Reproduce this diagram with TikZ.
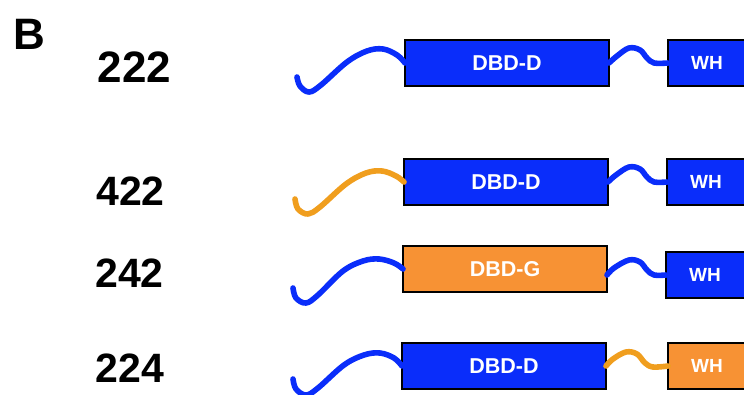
\documentclass[tikz,border=0pt]{standalone}
\usepackage{fontspec}
\setmainfont{Liberation Sans}
\definecolor{pblue}{RGB}{10,45,250}
\definecolor{porange}{RGB}{247,146,52}
\definecolor{ptail}{RGB}{240,158,30}
\tikzset{
  box/.style={draw=black, line width=1.3pt, minimum height=46pt, inner sep=0pt, outer sep=0pt,
    anchor=north west, text=white, font=\bfseries\fontsize{21.5}{21.5}\selectfont},
  dbd/.style={box, minimum width=204pt},
  wh/.style={box, minimum width=90pt, font=\bfseries\fontsize{19}{19}\selectfont},
  tail/.style={line width=5.6pt, line cap=round, line join=round},
  num/.style={inner sep=0pt, font=\bfseries\fontsize{41}{41}\selectfont},
}
\begin{document}
\begin{tikzpicture}[x=1pt, y=-1pt]
\useasboundingbox (0,0) rectangle (744,394);

\node[inner sep=0pt, font=\bfseries\fontsize{44}{44}\selectfont] (B) at (29,34) {B};
\node[num, font=\bfseries\fontsize{44}{44}\selectfont] (n1) at (134.5,67.5) {222};
\node[num] (n2) at (130.5,191.5) {422};
\node[num] (n3) at (129.5,273) {242};
\node[num] (n4) at (130,368) {224};

% row 1: 222
\begin{scope}[shift={(405,40)}]
  \node[dbd, fill=pblue] (d1) at (0,0) {DBD-D};
  \node[wh, fill=pblue] (w1) at (263,0) {WH\hspace*{12pt}};
  \coordinate (t1) at (-108,37);
  \draw[tail, pblue] plot[smooth, tension=0.6] coordinates {(t1) (-105,46) (-96,52) (-84,45) (-58,22) (-38,11) (-22,9) (-8,15) (d1.west)};
  \draw[tail, pblue] plot[smooth, tension=0.6] coordinates {(d1.east) (212,16) (224,8) (235,10) (242,18) (249,23) (w1.west)};
\end{scope}

% row 2: 422
\begin{scope}[shift={(404,159)}]
  \node[dbd, fill=pblue] (d2) at (0,0) {DBD-D};
  \node[wh, fill=pblue] (w2) at (263,0) {WH\hspace*{12pt}};
  \coordinate (t2) at (-109,40);
  \draw[tail, ptail] plot[smooth, tension=0.6] coordinates {(t2) (-106,50) (-96,55) (-84,48) (-58,25) (-38,14) (-22,12) (-8,17) (d2.west)};
  \draw[tail, pblue] plot[smooth, tension=0.6] coordinates {(d2.east) (212,16) (225,8) (236,10) (243,18) (250,23) (w2.west)};
\end{scope}

% row 3: 242
\begin{scope}[shift={(403,246)}]
  \node[dbd, fill=porange] (d3) at (0,0) {DBD-G};
  \node[wh, fill=pblue] (w3) at (263,6) {WH\hspace*{12pt}};
  \coordinate (t3) at (-110,42);
  \draw[tail, pblue] plot[smooth, tension=0.6] coordinates {(t3) (-107,52) (-97,57) (-85,49) (-60,25) (-40,15) (-24,13) (-9,17) (d3.west)};
  \draw[tail, pblue] plot[smooth, tension=0.6] coordinates {([yshift=-6pt]d3.east) (211,22) (226,14) (237,16) (244,24) (251,29) (w3.west)};
\end{scope}

% row 4: 224
\begin{scope}[shift={(402,343)}]
  \node[dbd, fill=pblue] (d4) at (0,0) {DBD-D};
  \node[wh, fill=porange] (w4) at (266,0) {WH\hspace*{12pt}};
  \coordinate (t4) at (-109,36);
  \draw[tail, pblue] plot[smooth, tension=0.6] coordinates {(t4) (-106,46) (-96,52) (-84,45) (-58,22) (-38,12) (-22,10) (-8,15) (d4.west)};
  \draw[tail, ptail] plot[smooth, tension=0.6] coordinates {(d4.east) (211,16) (224,9) (235,11) (243,20) (251,24) (w4.west)};
\end{scope}
\end{tikzpicture}
\end{document}
